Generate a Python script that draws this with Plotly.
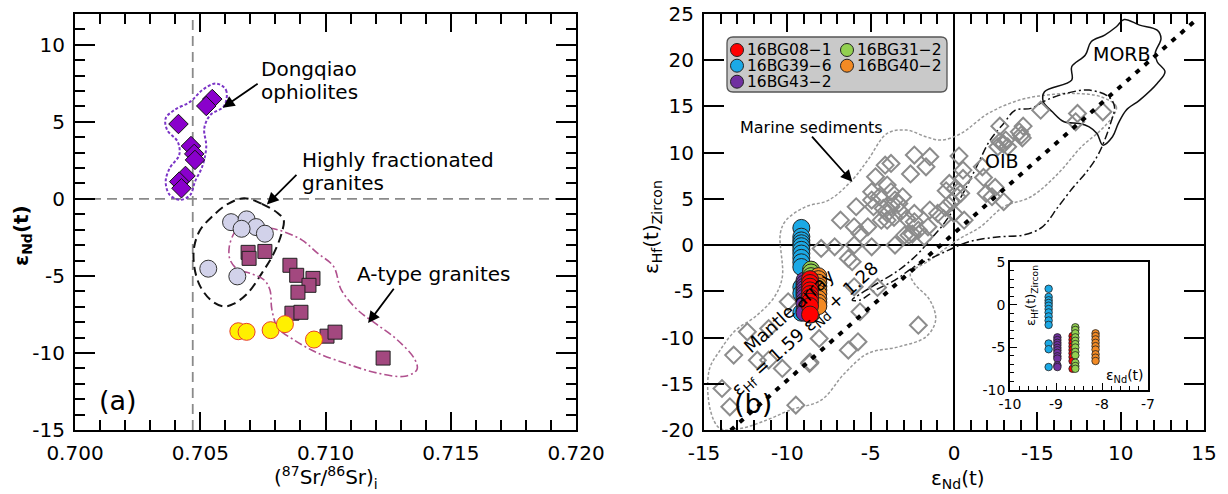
import plotly.graph_objects as go

FONT = "DejaVu Sans"
W, H = 1228, 494
ML, MR, MT, MB = 75, 24, 14, 64
PW = W - ML - MR
PH = H - MT - MB


def pxx(xp):
    return (xp - ML) / PW


def pyy(yp):
    return (H - MB - yp) / PH


# ---------------- Panel (a) data ----------------
ophio_sr = [0.70548, 0.70524, 0.70413, 0.70463, 0.70476, 0.70479, 0.70441, 0.70416, 0.70425]
ophio_nd = [6.48, 6.03, 4.86, 3.43, 2.92, 2.53, 1.49, 1.12, 0.69]

hfg_sr = [0.70623, 0.70685, 0.70723, 0.70665, 0.70758, 0.70532, 0.70648]
hfg_nd = [-1.51, -1.33, -1.83, -1.94, -2.26, -4.53, -5.03]

atype_sr = [0.70691, 0.70695, 0.70758, 0.70858, 0.70885, 0.70950, 0.70934, 0.70890,
            0.70866, 0.70902, 0.71006, 0.71038, 0.71230]
atype_nd = [-3.47, -3.86, -3.41, -4.31, -4.96, -5.16, -5.61, -6.06,
            -7.42, -7.36, -8.91, -8.65, -10.33]

yellow_sr = [0.70652, 0.70685, 0.70781, 0.70838, 0.70954]
yellow_nd = [-8.59, -8.63, -8.52, -8.13, -9.13]

ophio_outline_sr = [0.70563, 0.70603, 0.70595, 0.70540, 0.70516, 0.70524, 0.70508, 0.70479,
                    0.70460, 0.70421, 0.70378, 0.70362, 0.70378, 0.70416, 0.70410, 0.70368,
                    0.70362, 0.70397, 0.70460, 0.70508, 0.70563]
ophio_outline_nd = [7.49, 7.06, 6.03, 5.44, 4.58, 3.39, 2.10, 1.12, 0.26, -0.06, 0.26, 1.12,
                    1.99, 2.85, 3.71, 4.47, 5.23, 5.77, 6.31, 7.06, 7.49]

hfg_outline_sr = [0.70675, 0.70746, 0.70810, 0.70833, 0.70825, 0.70794, 0.70746, 0.70690,
                  0.70635, 0.70595, 0.70548, 0.70500, 0.70476, 0.70476, 0.70500, 0.70548,
                  0.70611, 0.70675]
hfg_outline_nd = [0.04, -0.32, -0.93, -1.36, -2.22, -3.52, -4.82, -6.11, -6.80, -6.98, -6.65,
                  -5.68, -4.38, -3.09, -2.01, -1.14, -0.32, 0.04]

atype_outline_sr = [0.70651, 0.70714, 0.70810, 0.70905, 0.70968, 0.71032, 0.71063, 0.71127,
                    0.71206, 0.71286, 0.71357, 0.71365, 0.71317, 0.71206, 0.71095, 0.70968,
                    0.70873, 0.70810, 0.70786, 0.70778, 0.70754, 0.70698, 0.70651, 0.70619,
                    0.70616, 0.70635, 0.70651]
atype_outline_nd = [-1.90, -1.79, -2.01, -2.66, -3.52, -4.38, -5.90, -7.19, -8.16, -9.14,
                    -10.43, -11.08, -11.51, -11.30, -10.76, -10.00, -9.14, -8.38, -7.19,
                    -5.90, -5.25, -4.82, -4.60, -3.95, -3.09, -2.22, -1.90]

bse_sr = 0.7047
chur_nd = 0.0

# ---------------- Panel (b) data ----------------
sed_nd = [8.93, 7.41, 5.20, 7.30, 4.15, 2.75, 4.03, 3.92, 3.10, 2.75, 2.98, 2.63, 3.22, 4.10,
          0.30, 0.54, 1.70, 1.77, 0.54, -0.28, 0.07, -0.47, 0.40, 2.47, 1.93, 2.28, 2.98,
          0.19, -0.16, -0.51, 0.00, -0.63, 0.61, -0.98, -1.56, -2.38, -2.14, -1.79, -2.38,
          -1.45, -2.38, -1.45, -1.68, -2.61, -4.13, -3.78, -4.71, -4.01, -4.94, -4.48,
          -3.78, -3.54, -3.08, -4.94, -4.83, -4.24, -3.78, -4.01, -3.31, -4.36, -4.01,
          -5.87, -6.81, -5.99, -5.17, -5.64, -4.94, -5.99, -7.16, -7.97, -6.34, -6.11,
          -3.54, -2.96, -2.70, -2.50, -2.84, -3.20, -3.60, -5.99, -4.59, -5.64, -2.14,
          -5.76, -6.34, -8.09, -8.67, -9.95, -11.12, -12.40, -13.22, -11.12, -10.30,
          -9.49, -13.92, -13.45, -11.80, -8.64]
sed_hf = [14.42, 14.24, 14.60, 13.34, 12.87, 12.87, 11.90, 12.26, 11.36, 11.18, 10.93, 10.64,
          10.64, 11.60, 9.63, 8.11, 8.47, 7.32, 7.21, 6.67, 6.13, 5.88, 5.60, 6.24, 5.59,
          5.23, 4.69, 5.23, 4.69, 4.07, 3.43, 2.88, 2.70, 3.43, 1.98, 2.52, 1.62, 0.90,
          3.43, 3.79, 9.74, 9.56, 8.47, 7.70, 8.65, 8.83, 7.39, 6.49, 5.77, 5.23, 5.77,
          4.87, 5.23, 4.87, 4.15, 3.97, 4.15, 3.43, 4.51, 2.70, 2.70, 4.15, 2.70, 1.98,
          1.98, 1.26, -0.18, 0.00, -0.18, -0.36, -1.44, -1.80, 0.00, 1.08, 1.08, 1.20,
          2.88, 3.60, 3.00, -4.51, -4.58, -7.21, -8.66, -10.46, -11.36, -10.10, -12.80,
          -6.13, -9.02, -9.38, -11.90, -12.44, -13.34, -17.31, -15.51, -17.49, -12.45,
          -12.66]

sample_names = ["16BG08\u22121", "16BG39\u22126", "16BG43\u22122", "16BG31\u22122", "16BG40\u22122"]
sample_colors = ["#FF0000", "#1BA9E6", "#7030A0", "#92D050", "#F28A24"]
sample_nd = [-8.64, -9.16, -8.97, -8.58, -8.14]
sample_hf = [
    [-3.68, -4.10, -4.50, -4.90, -5.30, -5.70, -6.13, -6.60, -7.51],
    [1.86, 0.91, 0.51, 0.20, -0.12, -0.51, -0.91, -1.38, -1.86, -2.37, -4.55, -5.22, -7.31],
    [-3.83, -4.15, -4.47, -4.74, -5.06, -5.34, -5.65, -6.05, -6.32, -7.11, -7.31],
    [-2.65, -2.96, -3.36, -3.83, -4.23, -4.62, -5.02, -5.53, -5.93, -6.80, -7.19, -7.51],
    [-3.36, -3.68, -4.07, -4.47, -4.86, -5.26, -5.81, -6.21, -6.60],
]

morb_nd = [5.43, 7.06, 7.06, 7.88, 8.23, 9.04, 9.74, 10.21, 11.14, 12.19, 12.42, 12.07, 12.19,
           12.66, 12.19, 11.14, 10.33, 9.86, 9.51, 8.93, 8.58, 8.11, 7.53, 6.60, 5.90, 5.36, 5.43]
morb_hf = [16.59, 17.85, 19.29, 20.56, 22.00, 22.72, 23.62, 24.40, 23.80, 23.26, 22.36, 20.74,
           19.83, 18.75, 17.49, 15.69, 14.60, 13.16, 11.72, 10.82, 12.08, 12.80, 13.16, 13.34,
           14.42, 15.51, 16.59]

oib_nd = [-6.11, -4.94, -3.31, -2.14, -1.45, -0.75, -0.05, 0.65, 1.35, 2.17, 2.98, 3.68, 4.62,
          5.55, 6.71, 8.11, 9.28, 9.63, 9.39, 9.04, 8.58, 7.88, 7.18, 6.25, 5.31, 4.15, 2.75,
          0.89, -0.75, -2.38, -3.54, -4.71, -5.64, -6.11]
oib_hf = [-5.95, -4.51, -2.70, -0.90, 0.54, 1.98, 3.79, 5.95, 8.47, 11.36, 13.16, 14.60, 14.79,
          15.69, 16.41, 16.77, 16.05, 14.97, 13.16, 11.36, 9.56, 7.75, 6.31, 4.15, 1.98, 1.08,
          0.90, 0.36, -0.90, -2.34, -3.79, -4.87, -5.95, -5.95]

sed_outline_nd = [8.81, 9.74, 9.51, 8.81, 7.65, 6.25, 4.62, 2.98, 1.59, 0.19, -1.45, -2.61,
                  -2.38, -1.45, -1.10, -1.68, -3.31, -5.17, -6.57, -7.97, -9.84, -11.24,
                  -12.87, -14.03, -14.62, -14.69, -14.03, -13.10, -11.93, -10.77, -10.30,
                  -10.42, -10.07, -8.90, -7.51, -6.11, -5.17, -4.01, -2.84, -1.68, -0.75,
                  0.42, 2.05, 3.92, 5.55, 7.18, 8.81]
sed_outline_hf = [16.05, 14.97, 13.88, 12.44, 10.64, 7.75, 5.23, 4.15, 1.98, 0.54, -1.62, -3.07,
                  -4.15, -5.95, -8.11, -9.92, -11.00, -11.72, -13.88, -16.77, -17.85, -18.93,
                  -19.85, -19.85, -17.85, -13.52, -11.36, -9.20, -7.75, -5.59, -3.43, 1.26,
                  2.70, 4.15, 4.87, 7.03, 9.20, 12.08, 12.44, 11.72, 11.36, 12.08, 14.24, 15.69,
                  16.23, 16.41, 16.05]

mantle_slope = 1.59
mantle_intercept = 1.28
mantle_nd = [-13.4, 14.4]
mantle_hf = [mantle_slope * v + mantle_intercept for v in mantle_nd]

fig = go.Figure()


def outline(x, y, color, dash, width, xa="x", ya="y"):
    fig.add_trace(go.Scatter(x=x, y=y, mode="lines", xaxis=xa, yaxis=ya,
                             line=dict(color=color, dash=dash, width=width, shape="spline",
                                       smoothing=1.0),
                             showlegend=False, hoverinfo="skip"))


# ---- Panel (a) traces ----
outline(ophio_outline_sr, ophio_outline_nd, "#7B35C6", "3px,2px", 2)
outline(hfg_outline_sr, hfg_outline_nd, "#111111", "9px,5px", 2)
outline(atype_outline_sr, atype_outline_nd, "#B0508E", "8px,3px,2px,3px", 1.6)

fig.add_trace(go.Scatter(x=hfg_sr, y=hfg_nd, mode="markers", xaxis="x", yaxis="y",
                         marker=dict(symbol="circle", size=17, color="#D2D2EA",
                                     line=dict(color="#333333", width=1)),
                         showlegend=False, name="Highly fractionated granites"))
fig.add_trace(go.Scatter(x=atype_sr, y=atype_nd, mode="markers", xaxis="x", yaxis="y",
                         marker=dict(symbol="square", size=14, color="#A3487F",
                                     line=dict(color="#222222", width=1)),
                         showlegend=False, name="A-type granites"))
fig.add_trace(go.Scatter(x=yellow_sr, y=yellow_nd, mode="markers", xaxis="x", yaxis="y",
                         marker=dict(symbol="circle", size=17, color="#FFF000",
                                     line=dict(color="#E8402A", width=1)),
                         showlegend=False, name="This study"))
fig.add_trace(go.Scatter(x=ophio_sr, y=ophio_nd, mode="markers", xaxis="x", yaxis="y",
                         marker=dict(symbol="diamond", size=15, color="#8A00CC",
                                     line=dict(color="#111111", width=1)),
                         showlegend=False, name="Dongqiao ophiolites"))

# ---- Panel (b) traces ----
outline(sed_outline_nd, sed_outline_hf, "#999999", "3px,2px", 1.5, "x2", "y2")
outline(oib_nd, oib_hf, "#111111", "8px,3px,2px,3px", 1.5, "x2", "y2")
outline(morb_nd, morb_hf, "#111111", "solid", 1.5, "x2", "y2")

fig.add_trace(go.Scatter(x=sed_nd, y=sed_hf, mode="markers", xaxis="x2", yaxis="y2",
                         marker=dict(symbol="diamond-open", size=13, color="#8C8C8C",
                                     line=dict(color="#8C8C8C", width=2)),
                         showlegend=False, name="Marine sediments"))
fig.add_trace(go.Scatter(x=mantle_nd, y=mantle_hf, mode="lines", xaxis="x2", yaxis="y2",
                         line=dict(color="#000000", dash="5px,7px", width=4),
                         showlegend=False, name="Mantle array"))

main_order = [1, 2, 3, 4, 0]
for i in main_order:
    fig.add_trace(go.Scatter(x=[sample_nd[i]] * len(sample_hf[i]), y=sample_hf[i],
                             mode="markers", xaxis="x2", yaxis="y2",
                             marker=dict(symbol="circle", size=17, color=sample_colors[i],
                                         line=dict(color="#222222", width=1)),
                             showlegend=False, name=sample_names[i]))

inset_order = [1, 2, 0, 3, 4]
for i in inset_order:
    fig.add_trace(go.Scatter(x=[sample_nd[i]] * len(sample_hf[i]), y=sample_hf[i],
                             mode="markers", xaxis="x3", yaxis="y3",
                             marker=dict(symbol="circle", size=7.5, color=sample_colors[i],
                                         line=dict(color="#222222", width=0.8)),
                             showlegend=False, name=sample_names[i]))

# ---- Axes ----
tickfont = dict(family=FONT, size=20, color="black")
common = dict(showline=True, linecolor="black", linewidth=2, mirror="allticks",
              ticks="inside", tickcolor="black", tickwidth=1.5, showgrid=False,
              zeroline=False, tickfont=tickfont, ticklabelstandoff=4, automargin=False)

xa_ticks = [0.700, 0.705, 0.710, 0.715, 0.720]
ya_ticks = [-15, -10, -5, 0, 5, 10]
xb_ticks = [-15, -10, -5, 0, 5, 10, 15]
xb_text = ["-15", "-10", "-5", "0", "-15", "10", "15"]
yb_ticks = [-20, -15, -10, -5, 0, 5, 10, 15, 20, 25]
xi_ticks = [-10, -9, -8, -7]
yi_ticks = [-10, -5, 0, 5]

d_a = [0, (576 - ML) / PW]
d_b = [(704 - ML) / PW, 1.0]

fig.update_layout(
    xaxis=dict(domain=d_a, range=[0.700, 0.720], tickvals=xa_ticks,
               ticktext=["%.3f" % v for v in xa_ticks], ticklen=18,
               minor=dict(dtick=0.001, ticklen=10, ticks="inside", tickcolor="black",
                          tickwidth=1.5, tick0=0.700),
               anchor="y", **common),
    yaxis=dict(domain=[0, 1], range=[-15, 12], tickvals=ya_ticks,
               ticktext=[str(v) for v in ya_ticks], ticklen=20,
               minor=dict(dtick=1, ticklen=10, ticks="inside", tickcolor="black",
                          tickwidth=1.5),
               anchor="x", **common),
    xaxis2=dict(domain=d_b, range=[-15, 15], tickvals=xb_ticks, ticktext=xb_text,
                ticklen=18,
                minor=dict(dtick=1, ticklen=10, ticks="inside", tickcolor="black",
                           tickwidth=1.5),
                anchor="y2", **common),
    yaxis2=dict(domain=[0, 1], range=[-20, 25], tickvals=yb_ticks,
                ticktext=[str(v) for v in yb_ticks], ticklen=20,
                anchor="x2", **common),
    xaxis3=dict(domain=[pxx(1010), pxx(1148)], range=[-10, -7], tickvals=xi_ticks,
                ticktext=[str(v) for v in xi_ticks], ticks="inside", ticklen=7,
                tickwidth=1, tickcolor="black",
                minor=dict(dtick=0.2, ticklen=4, ticks="inside", tickcolor="black",
                           tickwidth=1),
                showline=True, linecolor="black", linewidth=1.5, mirror=True,
                showgrid=False, zeroline=False, anchor="y3", automargin=False,
                tickfont=dict(family=FONT, size=14, color="black")),
    yaxis3=dict(domain=[pyy(390), pyy(262)], range=[-10, 5], tickvals=yi_ticks,
                ticktext=[str(v) for v in yi_ticks], ticks="inside", ticklen=7,
                tickwidth=1, tickcolor="black",
                minor=dict(dtick=1, ticklen=4, ticks="inside", tickcolor="black",
                           tickwidth=1),
                showline=True, linecolor="black", linewidth=1.5, mirror=True,
                showgrid=False, zeroline=False, anchor="x3", automargin=False,
                tickfont=dict(family=FONT, size=14, color="black")),
)

# ---- Shapes ----
shapes = [
    dict(type="line", xref="x", yref="y", x0=bse_sr, x1=bse_sr, y0=-15, y1=12,
         line=dict(color="#8A8A8A", width=1.8, dash="10px,6px"), layer="below"),
    dict(type="line", xref="x", yref="y", x0=0.700, x1=0.720, y0=chur_nd, y1=chur_nd,
         line=dict(color="#8A8A8A", width=1.8, dash="10px,6px"), layer="below"),
    dict(type="line", xref="x2", yref="y2", x0=0, x1=0, y0=-20, y1=25,
         line=dict(color="black", width=2), layer="below"),
    dict(type="line", xref="x2", yref="y2", x0=-15, x1=15, y0=0, y1=0,
         line=dict(color="black", width=2), layer="below"),
]

# legend box (rounded)
x0, x1, y0, y1 = pxx(727), pxx(947), pyy(92), pyy(37)
rx, ry = 6 / PW, 6 / PH
path = (f"M {x0+rx},{y1} L {x1-rx},{y1} Q {x1},{y1} {x1},{y1-ry} L {x1},{y0+ry} "
        f"Q {x1},{y0} {x1-rx},{y0} L {x0+rx},{y0} Q {x0},{y0} {x0},{y0+ry} "
        f"L {x0},{y1-ry} Q {x0},{y1} {x0+rx},{y1} Z")
shapes.append(dict(type="path", xref="paper", yref="paper", path=path,
                   fillcolor="#C9C9C9", line=dict(color="#555555", width=1.3)))

annotations = []
leg_cols = [737, 847]
leg_rows = [50, 65.7, 81.7]
for k, name in enumerate(sample_names):
    col, row = divmod(k, 3)
    cx, cy = pxx(leg_cols[col]), pyy(leg_rows[row])
    shapes.append(dict(type="circle", xref="paper", yref="paper", xsizemode="pixel",
                       ysizemode="pixel", xanchor=cx, yanchor=cy, x0=-6.5, x1=6.5,
                       y0=-6.5, y1=6.5, fillcolor=sample_colors[k],
                       line=dict(color="#222222", width=1)))
    annotations.append(dict(xref="paper", yref="paper", x=pxx(leg_cols[col] + 8), y=cy,
                            text=name, showarrow=False, xanchor="left", yanchor="middle",
                            font=dict(family=FONT, size=15.5, color="black")))

fig.update_layout(shapes=shapes)


def txt(text, x, y, xref="x", yref="y", size=20, xanchor="left", angle=0):
    annotations.append(dict(xref=xref, yref=yref, x=x, y=y, text=text, showarrow=False,
                            xanchor=xanchor, yanchor="middle", textangle=angle,
                            font=dict(family=FONT, size=size, color="black")))


def arrow(xt, yt, xh, yh, xref="x", yref="y"):
    annotations.append(dict(xref=xref, yref=yref, axref=xref, ayref=yref, x=xh, y=yh,
                            ax=xt, ay=yt, text="", showarrow=True, arrowhead=2,
                            arrowsize=1.3, arrowwidth=1.8, arrowcolor="black"))


# panel a texts
txt("Dongqiao", 0.70735, 8.43)
txt("ophiolites", 0.70735, 6.91)
arrow(0.70735, 7.54, 0.70590, 5.92)
txt("Highly fractionated", 0.70898, 2.53)
txt("granites", 0.70898, 1.02)
arrow(0.70890, 1.65, 0.70766, -0.36)
txt("A-type granites", 0.71116, -4.90)
arrow(0.71277, -5.74, 0.71170, -8.06)
txt("(a)", 0.70170, -13.1, size=27, xanchor="center")

# panel b texts
txt("Marine sediments", -12.96, 12.7, "x2", "y2", size=16)
arrow(-8.6, 11.9, -6.1, 6.85, "x2", "y2")
txt("MORB", 10.08, 20.67, "x2", "y2", size=19, xanchor="center")
txt("OIB", 2.88, 9.09, "x2", "y2", size=19, xanchor="center")
txt("(b)", -12.06, -17.1, "x2", "y2", size=27, xanchor="center")
annotations.append(dict(xref="x2", yref="y2", x=-9.36, y=-8.2,
                        text="Mantle array<br>\u03b5<sub>Hf</sub> = 1.59 \u03b5<sub>Nd</sub> + 1.28",
                        showarrow=False, textangle=-42, xanchor="center", yanchor="middle",
                        font=dict(family=FONT, size=18, color="black")))

# axis titles
txt("<b>\u03b5<sub>Nd</sub>(t)</b>", pxx(22), pyy(236), "paper", "paper", size=20,
    xanchor="center", angle=-90)
txt("(<sup>87</sup>Sr/<sup>86</sup>Sr)<sub>i</sub>", pxx(326), pyy(477), "paper", "paper",
    size=20, xanchor="center")
txt("\u03b5<sub>Hf</sub>(t)<sub>Zircon</sub>", pxx(652), pyy(227), "paper", "paper", size=20,
    xanchor="center", angle=-90)
txt("\u03b5<sub>Nd</sub>(t)", pxx(958), pyy(479), "paper", "paper", size=20, xanchor="center")
# inset titles
txt("\u03b5<sub>Hf</sub>(t)<sub>Zircon</sub>", pxx(1031), pyy(296), "paper", "paper", size=13,
    xanchor="center", angle=-90)
txt("\u03b5<sub>Nd</sub>(t)", pxx(1146), pyy(376), "paper", "paper", size=14, xanchor="right")

fig.update_layout(
    annotations=annotations,
    width=W, height=H,
    margin=dict(l=ML, r=MR, t=MT, b=MB, autoexpand=False),
    paper_bgcolor="white", plot_bgcolor="white",
    font=dict(family=FONT, size=20, color="black"),
    showlegend=False,
)

fig.write_html("out.html", config={"displayModeBar": False},
               post_script="document.body.style.margin='0px';")
